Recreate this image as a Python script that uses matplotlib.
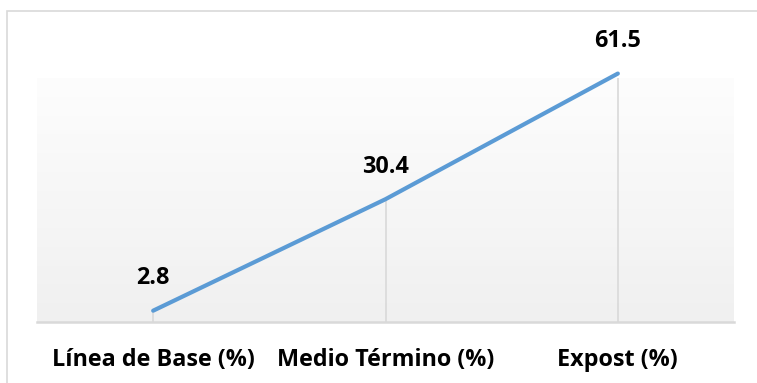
import numpy as np
import matplotlib
matplotlib.use("Agg")
import matplotlib.pyplot as plt
from matplotlib.colors import LinearSegmentedColormap
from matplotlib.patches import Rectangle

categories = ["Línea de Base (%)", "Medio Término (%)", "Expost (%)"]
values = [2.8, 30.4, 61.5]

W, H = 757, 383
LINE_BLUE = "#5b9bd5"
GRID_GRAY = "#d9d9d9"
FONT_SIZE = 16.8

plt.rcParams["font.family"] = ["Open Sans", "DejaVu Sans"]

fig = plt.figure(figsize=(W / 100, H / 100), dpi=100)

# outer chart frame (only left/top edges fall inside the canvas)
fig.patches.append(Rectangle((7 / W, -0.1), 1.2, (H - 11) / H + 0.1,
                             transform=fig.transFigure, fill=False,
                             edgecolor=GRID_GRAY, linewidth=1.2))

# plot area in pixels: left 37, right 734, top 78, bottom 322
left, right, top, bottom = 37, 734, 78, 322
ax = fig.add_axes([left / W, 1 - bottom / H, (right - left) / W, (bottom - top) / H])

x = np.arange(len(categories))
ymax = 60.4
ax.set_xlim(-0.5, len(categories) - 0.5)
ax.set_ylim(0, ymax)

# vertical gradient fill for the plot area
grad = np.linspace(0, 1, 256).reshape(-1, 1)
ax.imshow(grad, extent=[-0.5, len(categories) - 0.5, 0, ymax], aspect="auto",
          cmap=LinearSegmentedColormap.from_list("bg", ["#f0f0f0", "#fdfdfd"]),
          origin="lower", zorder=0)

# drop lines from each point to the axis
ax.vlines(x, 0, values, color=GRID_GRAY, linewidth=1.2, zorder=1)

ax.plot(x, values, color=LINE_BLUE, linewidth=3, solid_capstyle="round",
        clip_on=False, zorder=3)

for xi, v in zip(x, values):
    ax.annotate(f"{v}", (xi, v), xytext=(0, 23.5), textcoords="offset points",
                ha="center", va="center", fontsize=FONT_SIZE, fontweight="bold",
                color="black", annotation_clip=False)

for s in ["top", "right", "left"]:
    ax.spines[s].set_visible(False)
ax.spines["bottom"].set_color(GRID_GRAY)
ax.spines["bottom"].set_linewidth(1.8)

ax.set_yticks([])
ax.set_xticks(x)
ax.set_xticklabels(categories, fontsize=FONT_SIZE, fontweight="bold")
ax.tick_params(axis="x", length=0, pad=19)

fig.savefig("out.png", dpi=100)
